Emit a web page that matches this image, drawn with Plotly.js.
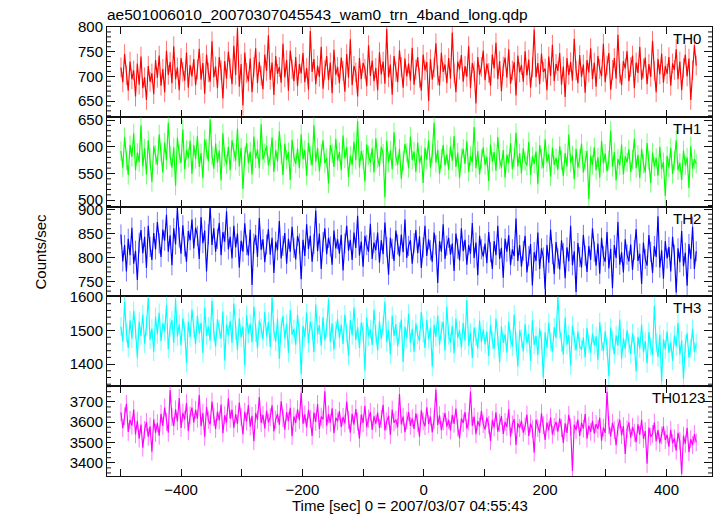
<!DOCTYPE html>
<html>
<head>
<meta charset="utf-8">
<script src="https://cdn.plot.ly/plotly-3.0.1.min.js"></script>
<style>html,body{margin:0;padding:0;background:#fff;}#chart{width:717px;height:516px;}</style>
</head>
<body>
<div id="chart"></div>
<script>
// ---- data (count rates, counts/sec), 3 s bins starting at t = -499 s ----
var tStart = -499;
var binSize = 3;
var bandNames = ['TH0', 'TH1', 'TH2', 'TH3', 'TH0123'];

var th0 = [
718,688,745,702,671,730,694,712,659,726,683,740,676,698,652,721,689,706,664,733,
697,742,681,715,668,752,703,729,686,761,694,718,672,737,709,691,748,677,723,700,
735,682,714,756,693,727,665,744,708,689,771,698,720,676,739,712,655,731,695,750,
716,684,762,703,798,679,725,641,748,707,690,736,668,719,757,686,729,701,674,744,
711,783,693,728,662,741,705,719,687,766,698,733,671,752,714,690,739,680,725,706,
747,688,717,673,792,709,735,684,722,699,760,675,713,741,692,728,666,754,703,719,
686,738,711,669,745,697,775,682,721,708,659,737,694,727,715,680,763,701,732,690,
717,672,749,704,730,685,796,698,724,663,741,709,688,753,719,677,736,700,726,691,
758,683,714,739,697,671,744,712,729,650,735,693,718,767,702,681,748,709,724,686,
737,695,789,706,668,730,714,743,689,721,699,761,676,727,710,645,739,703,719,752,
692,726,707,681,744,716,768,694,731,670,720,738,697,755,685,712,729,661,742,708,
723,689,751,702,734,677,718,795,698,727,684,746,709,716,672,740,701,764,690,725,
711,747,683,720,658,737,703,729,691,776,712,686,743,699,724,667,733,708,757,694,
728,679,741,715,700,766,688,722,747,673,713,737,695,784,706,682,731,716,751,690,
719,742,676,728,707,760,693,716,738,684,725,699,772,711,668,735,704,746,687,721,
705,739,681,726,713,755,694,730,672,717,744,700,736,652,712,763,722
];

var th1 = [
592,561,618,574,547,603,581,625,556,589,571,640,563,597,548,612,579,534,601,585,
566,623,590,552,608,575,645,583,561,599,527,617,586,570,632,558,594,579,611,549,
603,577,620,562,588,541,614,596,573,651,584,559,606,570,593,537,625,581,567,600,
556,612,589,574,634,563,598,521,582,607,569,591,548,619,578,595,560,642,576,588,
602,565,581,617,553,594,572,629,585,547,606,576,590,538,613,581,568,597,560,623,
577,594,546,608,583,565,640,572,598,554,587,612,569,579,531,603,588,562,615,574,
590,556,621,578,599,543,583,566,609,575,648,561,592,576,535,604,584,570,597,552,
616,579,563,600,587,505,611,571,593,558,627,582,566,596,540,574,605,589,560,619,
575,591,553,608,569,584,532,598,576,612,561,587,645,570,594,549,578,603,565,586,
557,601,574,620,562,589,541,579,596,568,610,553,583,571,637,560,592,548,577,599,
566,581,536,604,572,590,555,618,576,561,594,542,585,569,607,558,580,626,563,588,
550,597,573,565,609,547,582,568,591,530,603,577,560,614,571,586,544,598,566,579,
557,601,574,545,588,563,623,570,584,539,596,561,578,606,552,575,592,502,583,566,
599,556,580,542,611,569,587,554,574,630,562,590,537,577,565,604,548,582,571,595,
553,576,615,560,585,541,596,568,552,607,574,532,589,563,579,546,600,558,571,508,
583,561,598,549,574,612,556,570,538,593,565,580,523,601,559,577,568
];

var th2 = [
848,792,826,771,839,805,862,787,814,753,831,857,809,843,778,866,822,795,851,817,
874,829,801,858,835,889,812,846,784,861,827,903,842,808,867,823,791,855,836,879,
819,862,845,797,884,830,856,771,848,907,826,861,812,839,872,805,853,833,896,817,
843,798,866,821,850,779,835,812,871,826,804,858,743,829,847,801,882,816,838,790,
827,859,806,841,768,833,815,876,798,824,851,787,839,812,864,820,796,845,829,755,
837,803,869,818,845,791,828,898,813,850,776,832,861,807,841,823,785,856,819,838,
808,847,773,829,866,814,837,795,852,820,887,804,833,781,845,826,812,870,797,831,
815,852,789,836,807,873,822,764,841,818,793,856,827,802,848,811,879,799,824,836,
787,830,857,809,844,778,821,866,803,838,815,791,852,826,747,834,812,869,797,825,
841,806,829,772,850,818,794,861,813,837,785,826,808,872,799,831,763,845,817,802,
829,788,853,811,776,834,805,866,797,820,758,839,812,846,784,817,803,881,793,826,
781,814,845,769,803,828,742,811,793,852,776,819,800,734,826,789,858,807,765,832,
798,775,836,809,757,821,792,866,784,813,728,830,801,779,847,804,770,824,795,861,
812,783,829,766,841,803,791,853,777,818,736,826,799,874,785,811,769,838,806,792,
827,774,816,859,793,808,745,831,797,783,847,812,768,824,801,886,779,815,756,834,
798,822,771,843,806,727,819,790,855,782,810,741,828,797,864,776,813
];

var th3 = [
1512,1467,1585,1493,1448,1531,1476,1559,1502,1419,1527,1484,1548,1461,1515,1598,1473,1506,1437,1541,
1489,1553,1468,1522,1497,1576,1445,1510,1531,1463,1594,1482,1519,1456,1537,1498,1403,1526,1480,1563,
1507,1459,1544,1491,1523,1432,1568,1485,1512,1470,1589,1496,1452,1534,1503,1476,1557,1411,1518,1487,
1529,1463,1581,1500,1442,1537,1479,1513,1396,1546,1490,1521,1465,1572,1494,1447,1530,1508,1474,1555,
1482,1526,1451,1599,1498,1467,1535,1415,1509,1543,1476,1520,1433,1561,1488,1505,1458,1547,1492,1370,
1514,1480,1553,1462,1527,1501,1436,1578,1489,1516,1455,1540,1471,1507,1593,1466,1522,1443,1499,1534,
1477,1518,1460,1548,1493,1425,1531,1486,1569,1472,1510,1448,1524,1497,1381,1539,1483,1504,1457,1562,
1490,1441,1528,1475,1515,1586,1466,1502,1429,1544,1484,1519,1453,1497,1533,1406,1511,1478,1550,1463,
1505,1437,1521,1487,1469,1556,1492,1448,1532,1474,1509,1392,1517,1481,1545,1458,1499,1527,1440,1572,
1486,1463,1514,1432,1536,1478,1501,1449,1523,1470,1591,1455,1494,1418,1509,1482,1447,1530,1466,1503,
1459,1497,1424,1518,1471,1445,1536,1480,1405,1512,1463,1489,1434,1527,1475,1452,1548,1468,1393,1501,
1476,1438,1519,1462,1490,1409,1531,1457,1484,1427,1506,1471,1359,1495,1449,1523,1466,1437,1510,1478,
1601,1504,1465,1428,1539,1458,1487,1396,1515,1470,1441,1497,1453,1443,1479,1420,1508,1461,1435,1492,
1456,1483,1412,1525,1467,1439,1498,1451,1364,1509,1472,1429,1486,1455,1533,1416,1477,1446,1501,1462,
1430,1492,1458,1378,1481,1447,1518,1435,1469,1402,1496,1453,1427,1574,1463,1421,1488,1349,1474,1444,
1497,1433,1465,1410,1486,1452,1523,1428,1471,1356,1459,1492,1419,1448,1505,1437,1462
];

var th0123 = [
3648,3571,3629,3690,3552,3611,3583,3662,3540,3607,3519,3588,3474,3562,3601,3528,3579,3455,3614,3547,
3596,3533,3641,3582,3672,3601,3548,3758,3625,3580,3663,3604,3719,3571,3646,3612,3694,3556,3633,3672,
3598,3661,3617,3733,3580,3645,3528,3676,3610,3590,3701,3625,3567,3652,3609,3687,3545,3634,3598,3718,
3617,3662,3571,3640,3592,3697,3625,3539,3651,3603,3684,3578,3631,3506,3645,3612,3724,3596,3636,3569,
3657,3598,3624,3683,3554,3612,3641,3587,3703,3620,3563,3649,3605,3671,3531,3628,3596,3663,3610,3745,
3592,3638,3574,3660,3615,3532,3647,3601,3689,3566,3627,3613,3752,3583,3639,3597,3668,3546,3621,3604,
3655,3577,3626,3594,3702,3611,3548,3641,3588,3665,3603,3519,3637,3596,3681,3574,3618,3650,3562,3629,
3593,3647,3571,3616,3685,3559,3604,3631,3537,3662,3598,3612,3575,3739,3589,3627,3551,3608,3650,3582,
3619,3567,3643,3596,3528,3658,3604,3580,3673,3591,3627,3549,3612,3760,3586,3634,3561,3603,3645,3578,
3611,3559,3636,3592,3667,3574,3520,3618,3596,3650,3568,3603,3749,3582,3627,3541,3605,3579,3656,3590,
3564,3622,3587,3506,3611,3574,3648,3553,3596,3630,3542,3601,3577,3663,3529,3589,3615,3488,3594,3571,
3606,3548,3580,3637,3532,3593,3565,3450,3612,3571,3547,3644,3585,3512,3598,3560,3623,3539,3577,3601,
3553,3619,3571,3498,3594,3547,3636,3575,3360,3588,3561,3612,3532,3598,3568,3640,3519,3583,3552,3607,
3544,3591,3567,3622,3509,3573,3548,3749,3586,3530,3597,3561,3487,3574,3612,3536,3580,3443,3565,3599,
3523,3576,3548,3501,3589,3537,3612,3518,3556,3395,3573,3529,3542,3598,3505,3561,3497,3534,3580,3512,
3538,3479,3562,3496,3521,3460,3547,3508,3345,3533,3494,3572,3452,3516,3487,3541,3501
];

// typical 1-sigma error of a bin, per band (counts/sec)
var bandErrors = [20, 18, 21, 28, 44];

(function () {
  // ---- styling ----
  var series = [th0, th1, th2, th3, th0123];
  var lineColors = ['#ff0000', '#00ff00', '#0000ff', '#00ffff', '#ff00ff'];
  var errColors = ['rgba(255,0,0,0.55)', 'rgba(0,255,0,0.55)', 'rgba(0,0,255,0.55)', 'rgba(0,255,255,0.55)', 'rgba(255,0,255,0.55)'];
  var yRanges = [[618, 800], [488, 656], [719, 906], [1334, 1602], [3335, 3777]];
  var yDticks = [50, 50, 50, 100, 100];
  var yMinor = [10, 10, 10, 20, 25];
  var labelX = [0.985, 0.985, 0.985, 0.985, 0.9917];
  var xRange = [-522, 475];
  var xTickStep = 100, xLabelStep = 200;

  var FONT = 'Liberation Sans, Arial, Helvetica, sans-serif';
  var frameColor = '#111';
  var plotW = 605;

  // x tick positions every 100 s, labelled every 200 s
  var xTickVals = [], xTickText = [];
  for (var t = Math.ceil(xRange[0] / xTickStep) * xTickStep; t <= xRange[1]; t += xTickStep) {
    xTickVals.push(t);
    xTickText.push(t % xLabelStep === 0 ? (t < 0 ? '\u2212' + Math.abs(t) : String(t)) : '');
  }

  var traces = [];
  var shapes = [];
  var layout = {
    width: 717, height: 516,
    margin: {l: 107, r: 5, t: 27, b: 40},
    paper_bgcolor: '#fff', plot_bgcolor: '#fff',
    showlegend: false,
    font: {family: FONT, size: 15, color: '#000'},
    title: {
      text: 'ae501006010_20070307045543_wam0_trn_4band_long.qdp',
      font: {family: FONT, size: 15.5, color: '#000'},
      xref: 'paper', x: 0, xanchor: 'left',
      yref: 'container', y: 1 - 15 / 516, yanchor: 'middle'
    },
    annotations: [],
    shapes: shapes
  };

  var n = series.length;
  for (var k = 0; k < n; k++) {
    var vals = series[k];
    var times = vals.map(function (v, i) { return tStart + i * binSize; });
    var sfx = k === 0 ? '' : String(k + 1);
    traces.push({
      type: 'scatter', mode: 'lines',
      x: times, y: vals,
      xaxis: 'x' + sfx, yaxis: 'y' + sfx,
      line: {color: lineColors[k], width: 1.15},
      error_y: {type: 'constant', value: bandErrors[k], color: errColors[k], thickness: 1, width: 0},
      hoverinfo: 'skip'
    });

    var yTop = 1 - k / n, yBot = 1 - (k + 1) / n;
    layout['xaxis' + sfx] = {
      domain: [0, 1], anchor: 'y' + sfx,
      range: xRange, tickmode: 'array', tickvals: xTickVals, ticktext: xTickText,
      ticks: 'inside', ticklen: 7, tickwidth: 1, tickcolor: frameColor,
      showline: true, linecolor: frameColor, linewidth: 1, mirror: 'ticks',
      showgrid: false, zeroline: false,
      showticklabels: k === n - 1,
      tickfont: {family: FONT, size: 15, color: '#000'}
    };
    layout['yaxis' + sfx] = {
      domain: [yBot, yTop], anchor: 'x' + sfx,
      range: yRanges[k], tick0: 0, dtick: yDticks[k],
      ticks: 'inside', ticklen: 8, tickwidth: 1, tickcolor: frameColor,
      showline: true, linecolor: frameColor, linewidth: 1, mirror: 'ticks',
      showgrid: false, zeroline: false,
      tickfont: {family: FONT, size: 15, color: '#000'}
    };
    // minor y ticks on both sides of the panel
    var step = yMinor[k];
    for (var yv = Math.ceil(yRanges[k][0] / step) * step; yv <= yRanges[k][1]; yv += step) {
      if (yv % yDticks[k] === 0) continue;
      shapes.push({type: 'line', xref: 'x' + sfx + ' domain', yref: 'y' + sfx,
        x0: 0, x1: 4 / plotW, y0: yv, y1: yv, line: {color: frameColor, width: 1}});
      shapes.push({type: 'line', xref: 'x' + sfx + ' domain', yref: 'y' + sfx,
        x0: 1 - 4 / plotW, x1: 1, y0: yv, y1: yv, line: {color: frameColor, width: 1}});
    }
    layout.annotations.push({
      text: bandNames[k], xref: 'paper', yref: 'paper',
      x: labelX[k], y: yTop, xanchor: 'right', yanchor: 'top', yshift: -1,
      showarrow: false, font: {family: FONT, size: 15, color: '#000'}
    });
  }

  layout.annotations.push({
    text: 'Counts/sec', xref: 'paper', yref: 'paper',
    x: (40 - 107) / 605, y: 0.5, xanchor: 'center', yanchor: 'middle',
    textangle: -90, showarrow: false, font: {family: FONT, size: 15, color: '#000'}
  });
  layout.annotations.push({
    text: 'Time [sec] 0 = 2007/03/07 04:55:43', xref: 'paper', yref: 'paper',
    x: 0.5, y: (476 - 506) / 449, xanchor: 'center', yanchor: 'middle',
    showarrow: false, font: {family: FONT, size: 15, color: '#000'}
  });

  Plotly.newPlot('chart', traces, layout, {displayModeBar: false, staticPlot: true});
})();
</script>
</body>
</html>
